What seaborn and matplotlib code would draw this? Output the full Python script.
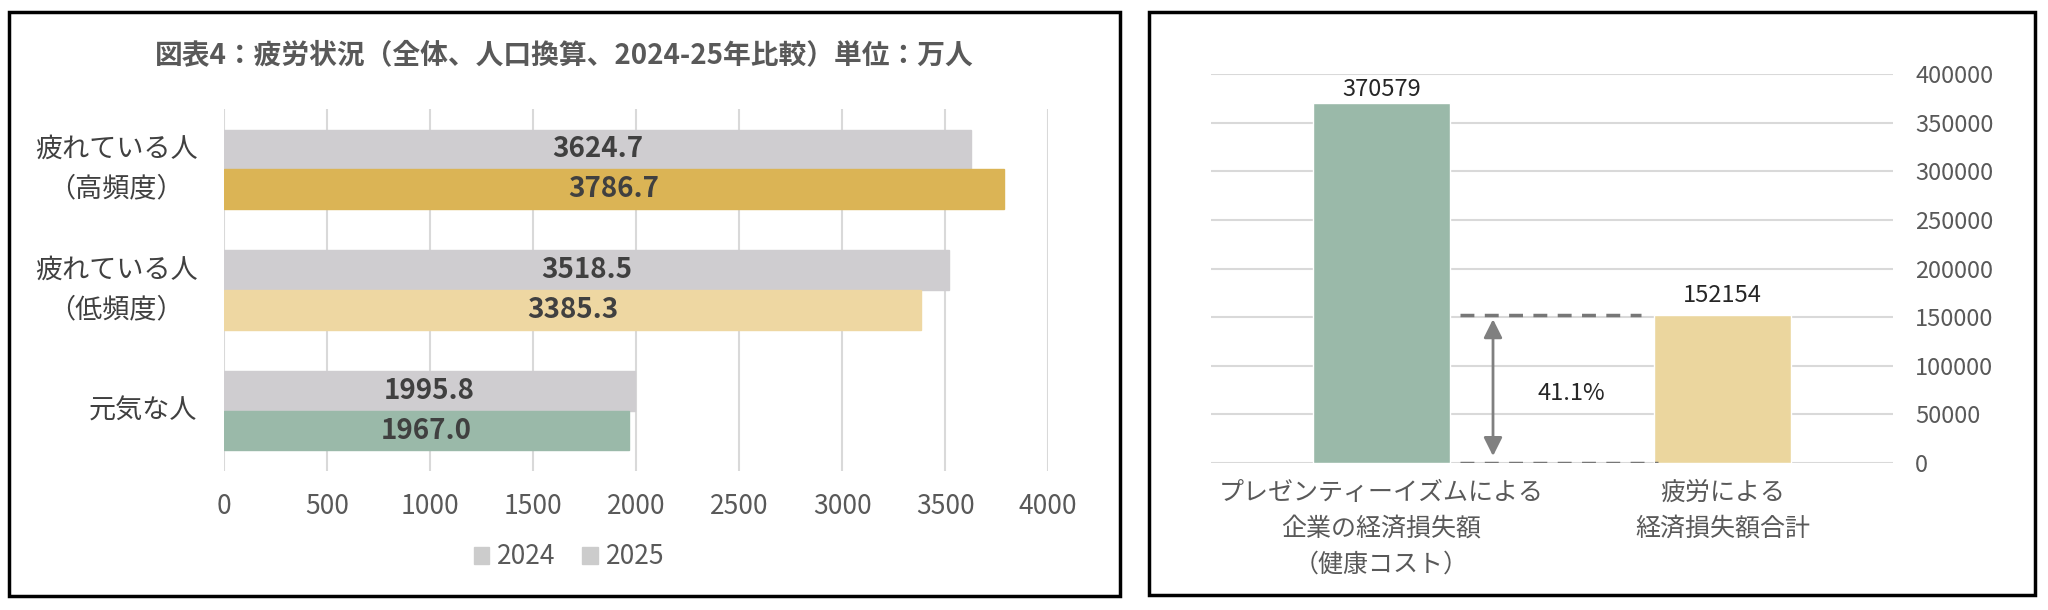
import numpy as np
import pandas as pd
import matplotlib
matplotlib.use('Agg')
import matplotlib.pyplot as plt
import seaborn as sns
from matplotlib.patches import Rectangle, Patch

# left chart data (万人)
categories = ['疲れている人\n（高頻度）', '疲れている人\n（低頻度）', '元気な人']
years = ['2024', '2025']
values_2024 = [3624.7, 3518.5, 1995.8]
values_2025 = [3786.7, 3385.3, 1967.0]
colors_2025 = ['#dbb455', '#eed7a2', '#9ab9a9']
gray_2024 = '#cfcdd0'
x_ticks = [0, 500, 1000, 1500, 2000, 2500, 3000, 3500, 4000]

# right chart data
cost_labels = ['プレゼンティーイズムによる\n企業の経済損失額\n（健康コスト）', '疲労による\n経済損失額合計']
cost_values = [370579, 152154]
cost_colors = ['#9ab9a9', '#ebd69e']
y_ticks = list(range(0, 400001, 50000))

sns.set_style('white')
plt.rcParams['font.family'] = ['Noto Sans CJK JP', 'DejaVu Sans']

txt_gray = '#595959'
dark = '#404040'
grid_c = '#d9d9d9'

fig = plt.figure(figsize=(20.48, 6.1), dpi=100)
fig.patch.set_facecolor('white')

# panel borders
fig.patches.append(Rectangle((9 / 2048, 1 - 596 / 610), 1111 / 2048, 584 / 610,
                             transform=fig.transFigure, fill=False, lw=2.5, ec='black'))
fig.patches.append(Rectangle((1149 / 2048, 1 - 595 / 610), 886 / 2048, 583 / 610,
                             transform=fig.transFigure, fill=False, lw=2.5, ec='black'))

##### LEFT: horizontal grouped bars #####
df = pd.DataFrame({
    'category': categories * 2,
    'year': [years[0]] * 3 + [years[1]] * 3,
    'value': values_2024 + values_2025,
})

ax1 = fig.add_axes([224 / 2048, 1 - 471 / 610, 824 / 2048, 362 / 610])
sns.barplot(data=df, y='category', x='value', hue='year', orient='h',
            palette=[gray_2024, colors_2025[0]], saturation=1, width=0.66,
            legend=False, ax=ax1)

# 2025 bars get a colour per category
for patch, c in zip(ax1.containers[1], colors_2025):
    patch.set_facecolor(c)
    patch.set_edgecolor(c)
for patch in ax1.containers[0]:
    patch.set_edgecolor(gray_2024)

for cont in ax1.containers:
    vals = [p.get_width() for p in cont]
    ax1.bar_label(cont, labels=[f'{v:.1f}' for v in vals], label_type='center',
                  fontsize=20, fontweight='bold', color=dark)

ax1.set_xlim(0, 4000)
ax1.set_xticks(x_ticks)
ax1.set_xlabel('')
ax1.set_ylabel('')
ax1.grid(axis='x', color=grid_c, lw=1.5)
ax1.set_axisbelow(True)
for s in ax1.spines.values():
    s.set_visible(False)
ax1.tick_params(axis='x', length=0, pad=16, labelsize=19, labelcolor=txt_gray)
ax1.tick_params(axis='y', length=0, pad=19, labelsize=19.5, labelcolor=dark)
for lab in ax1.get_yticklabels():
    lab.set_multialignment('center')
    lab.set_linespacing(1.6)
    lab.set_verticalalignment('center')

fig.text(564 / 2048, 1 - 55 / 610, '図表4：疲労状況（全体、人口換算、2024-25年比較）単位：万人',
         ha='center', va='center', fontsize=20, fontweight='bold', color=txt_gray)

# legend (both markers are grey in the original)
handles = [Patch(color='#cccccc', label=y) for y in years]
fig.legend(handles=handles, loc='center', bbox_to_anchor=(569 / 2048, 1 - 557 / 610),
           ncol=2, frameon=False, fontsize=19, handlelength=0.6, handleheight=0.6,
           handletextpad=0.3, columnspacing=1.0, labelcolor=txt_gray)

##### RIGHT: two bars #####
df2 = pd.DataFrame({'label': cost_labels, 'value': cost_values})
ax2 = fig.add_axes([1211 / 2048, 1 - 463 / 610, 682 / 2048, 389 / 610])
sns.barplot(data=df2, x='label', y='value', hue='label', palette=cost_colors,
            saturation=1, width=0.4, legend=False, ax=ax2)
ax2.set_ylim(0, 400000)
ax2.set_yticks(y_ticks)
ax2.yaxis.tick_right()
ax2.set_xlabel('')
ax2.set_ylabel('')
ax2.grid(axis='y', color=grid_c, lw=1.5)
ax2.set_axisbelow(True)
for s in ax2.spines.values():
    s.set_visible(False)
ax2.tick_params(axis='y', length=0, pad=16, labelsize=17, labelcolor=txt_gray)
ax2.tick_params(axis='x', length=0, pad=12, labelsize=18, labelcolor=txt_gray)
for lab in ax2.get_xticklabels():
    lab.set_multialignment('center')
    lab.set_linespacing(1.5)

# value labels: the first sits close to its bar, the second a bit higher
for cont, pad in zip(ax2.containers, [1, 6]):
    ax2.bar_label(cont, fmt='%d', padding=pad, fontsize=17, color='#262626')

# dashed guides and double arrow between bars
half = 0.2
ax2.plot([half + 0.03, 1 - half - 0.04], [cost_values[1], cost_values[1]],
         ls=(0, (4, 3)), color='#777777', lw=2.5)
ax2.plot([half + 0.03, 1 - half + 0.01], [0, 0], ls=(0, (4, 3)), color='#777777', lw=2.5)
arrow_x = 0.327
ax2.annotate('', xy=(arrow_x, 0), xytext=(arrow_x, cost_values[1]),
             arrowprops=dict(arrowstyle='<|-|>', color='#808080', lw=2,
                             mutation_scale=28, shrinkA=3, shrinkB=5))
ratio = cost_values[1] / cost_values[0]
ax2.text(0.556, cost_values[1] * 0.47, f'{ratio:.1%}', ha='center', va='center',
         fontsize=17, color='#262626')
ax2.set_xlim(-0.5, 1.5)

fig.savefig('out.png', dpi=100, facecolor='white')
